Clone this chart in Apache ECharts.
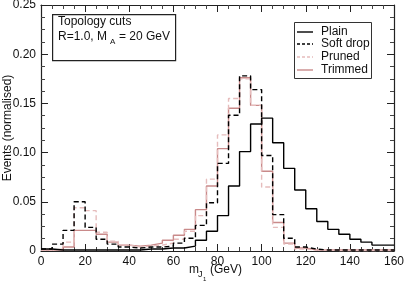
<!DOCTYPE html>
<html><head><meta charset="utf-8">
<script src="https://cdn.jsdelivr.net/npm/echarts@6/dist/echarts.min.js"></script>
<style>html,body{margin:0;padding:0;background:#fff}#c{width:404px;height:286px}</style>
</head><body><div id="c"></div>
<script>
// bin low edges (GeV), width 5
var binEdges = [0,5,10,15,20,25,30,35,40,45,50,55,60,65,70,75,80,85,90,95,100,105,110,115,120,125,130,135,140,145,150,155];
var binEnd = 160;
var plain    = [0.002,0.001,0.001,0.001,0.001,0.001,0.001,0.001,0.001,0.002,0.002,0.003,0.003,0.005,0.011,0.020,0.036,0.066,0.101,0.129,0.135,0.110,0.084,0.062,0.043,0.030,0.022,0.017,0.012,0.009,0.006,0.006];
var softDrop = [0.002,0.007,0.021,0.050,0.024,0.012,0.007,0.004,0.003,0.004,0.004,0.005,0.008,0.013,0.026,0.049,0.089,0.138,0.178,0.164,0.097,0.037,0.013,0.004,0.002,0.001,0.001,0.001,0.001,0.001,0.001,0.001];
var pruned   = [0.001,0.002,0.009,0.044,0.041,0.019,0.010,0.006,0.004,0.005,0.006,0.008,0.012,0.020,0.036,0.073,0.118,0.155,0.175,0.148,0.065,0.024,0.007,0.002,0.001,0.001,0.0005,0.0005,0.0005,0.0005,0.0005,0.0005];
var trimmed  = [0.001,0.001,0.004,0.021,0.021,0.017,0.009,0.006,0.005,0.006,0.008,0.011,0.016,0.022,0.042,0.066,0.104,0.145,0.176,0.148,0.081,0.029,0.008,0.003,0.001,0.001,0.001,0.001,0.001,0.001,0.001,0.001];
var seriesNames = ['Plain','Soft drop','Pruned','Trimmed'];
var xTicks = [0,20,40,60,80,100,120,140,160];
var yTicks = [0,0.05,0.10,0.15,0.20,0.25];

function hist(vals){
  var d = binEdges.map(function(e,i){return [e, vals[i]];});
  d.push([binEnd, vals[vals.length-1]]);
  return d;
}
var font = 'Liberation Sans, Arial, Helvetica, sans-serif';
var fs = 12;
function mkAxis(extra){
  var a = {
    axisLine:{show:true,onZero:false,lineStyle:{color:'#222',width:1.2}},
    axisTick:{show:true,inside:true,length:7,lineStyle:{color:'#222',width:1}},
    minorTick:{show:true,splitNumber:4,length:4,lineStyle:{color:'#444',width:1}},
    splitLine:{show:false},minorSplitLine:{show:false}
  };
  for (var k in extra) a[k]=extra[k];
  return a;
}
var colors = ['#000','#000','#e6bcbc','#c98a8a'];
var dashes = ['solid',[5,3],[5,3],'solid'];
var valsList = [plain, softDrop, pruned, trimmed];

var graphics = [
  {type:'rect',left:52,top:14,shape:{width:123,height:46},
   style:{fill:'#fff',stroke:'#222',lineWidth:1.2},z:10},
  {type:'text',left:58,top:16,z:11,style:{text:'Topology cuts',fontSize:fs,fontFamily:font,fill:'#111'}},
  {type:'text',left:58,top:31,z:11,style:{text:'R=1.0, M',fontSize:fs,fontFamily:font,fill:'#111'}},
  {type:'text',left:110,top:38,z:11,style:{text:'A',fontSize:8,fontFamily:font,fill:'#111'}},
  {type:'text',left:119,top:31,z:11,style:{text:'= 20 GeV',fontSize:fs,fontFamily:font,fill:'#111'}},
  // x axis name
  {type:'text',left:189,top:264,z:11,style:{text:'m',fontSize:fs,fontFamily:font,fill:'#111'}},
  {type:'text',left:198,top:270,z:12,style:{text:'J',fontSize:9,fontFamily:font,fill:'#111'}},
  {type:'text',left:203,top:276,z:12,style:{text:'1',fontSize:6,fontFamily:font,fill:'#111'}},
  {type:'text',left:210,top:264,z:11,style:{text:'(GeV)',fontSize:fs,fontFamily:font,fill:'#111'}},
  // y axis name
  {type:'text',x:8,y:128,rotation:Math.PI/2,z:11,
   style:{text:'Events (normalised)',fontSize:fs,fontFamily:font,fill:'#111',align:'center',verticalAlign:'middle'}},
  // legend box
  {type:'rect',left:294,top:22,shape:{width:77,height:56},
   style:{fill:'#fff',stroke:'#333',lineWidth:1},z:10}
];
var rowY = [32,44,57,70];
seriesNames.forEach(function(n,i){
  graphics.push({type:'line',z:11,shape:{x1:297,y1:rowY[i],x2:313,y2:rowY[i]},
    style:{stroke:colors[i],lineWidth:1.4,lineDash:dashes[i]==='solid'?null:[3,2]}});
  graphics.push({type:'text',z:11,left:321,top:rowY[i]-6,
    style:{text:n,fontSize:fs,fontFamily:font,fill:'#111'}});
});

var chart = echarts.init(document.getElementById('c'), null, {renderer:'canvas'});
chart.setOption({
  animation:false,
  backgroundColor:'#fff',
  grid:{left:41,right:10,top:5,bottom:35,containLabel:false,outerBoundsMode:'none'},
  xAxis:[
    mkAxis({type:'value',min:0,max:160,interval:20,position:'bottom',
      axisLabel:{color:'#111',fontSize:fs,fontFamily:font,margin:5}}),
    mkAxis({type:'value',min:0,max:160,interval:20,position:'top',axisLabel:{show:false}})
  ],
  yAxis:[
    mkAxis({type:'value',min:0,max:0.25,interval:0.05,position:'left',
      axisLabel:{color:'#111',fontSize:fs,fontFamily:font,margin:5,
        formatter:function(v){return v===0?'0':v.toFixed(2);}}}),
    mkAxis({type:'value',min:0,max:0.25,interval:0.05,position:'right',axisLabel:{show:false}})
  ],
  series:valsList.map(function(v,i){
    return {name:seriesNames[i],type:'line',step:'end',data:hist(v),showSymbol:false,symbol:'none',
      lineStyle:{color:colors[i],width:1.4,type:dashes[i]},itemStyle:{color:colors[i]},z:4-i};
  }),
  graphic:graphics
});
</script></body></html>
